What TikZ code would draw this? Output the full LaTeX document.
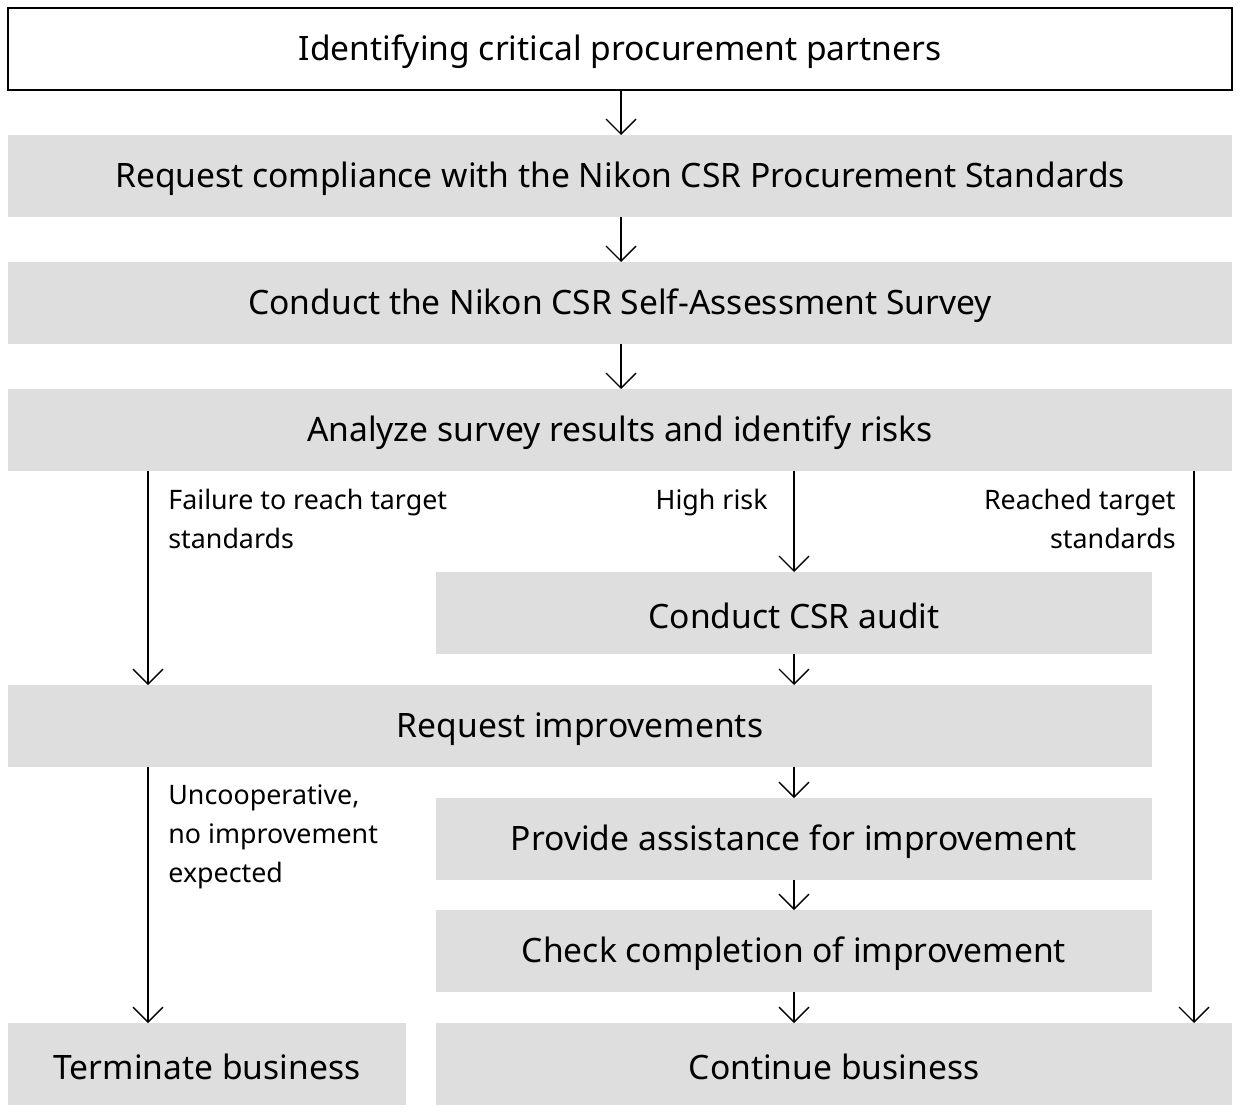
\documentclass[tikz,border=0pt]{standalone}
\usepackage{fontspec}
\setmainfont{Noto Sans}
\usetikzlibrary{arrows.meta}
\definecolor{boxgray}{HTML}{DEDEDE}
\begin{document}
\begin{tikzpicture}[x=0.5pt,y=-0.5pt,
  box/.style={fill=boxgray,draw=none},
  txt/.style={font=\fontsize{16.8}{20}\selectfont},
  lab/.style={font=\fontsize{13.4}{19.5}\selectfont,align=left,anchor=north west,inner sep=0},
  labr/.style={font=\fontsize{13.4}{19.5}\selectfont,align=right,anchor=north east,inner sep=0},
  arr/.style={-{Straight Barb[length=7.5pt,width=15pt]},line width=0.7pt}]
\useasboundingbox (0,0) rectangle (1240,1114);
\draw[line width=0.8pt] (8,8) rectangle (1232,90);
\node[txt] (t1) at (620,52) {Identifying critical procurement partners};
\fill[box] (8,135) rectangle (1232,217); \node[txt] (t2) at (620,179) {Request compliance with the Nikon CSR Procurement Standards};
\fill[box] (8,262) rectangle (1232,344); \node[txt] (t3) at (620,306) {Conduct the Nikon CSR Self-Assessment Survey};
\fill[box] (8,389) rectangle (1232,471); \node[txt] (t4) at (620,433) {Analyze survey results and identify risks};
\fill[box] (436,572) rectangle (1152,654); \node[txt] (au) at (794,616) {Conduct CSR audit};
\fill[box] (8,685) rectangle (1152,767); \node[txt] (ri) at (580,729) {Request improvements};
\fill[box] (436,798) rectangle (1152,880); \node[txt] (pa) at (794,842) {Provide assistance for improvement};
\fill[box] (436,910) rectangle (1152,992); \node[txt] (cc) at (794,954) {Check completion of improvement};
\fill[box] (8,1023) rectangle (406,1105); \node[txt] (tb) at (207,1067) {Terminate business};
\fill[box] (436,1023) rectangle (1232,1105); \node[txt] (cb) at (834,1067) {Continue business};
\coordinate (a1) at (621,90); \coordinate (a2) at (621,135);
\coordinate (b1) at (621,217); \coordinate (b2) at (621,262);
\coordinate (c1) at (621,344); \coordinate (c2) at (621,389);
\coordinate (l1) at (148,471); \coordinate (l2) at (148,685);
\coordinate (l3) at (148,767); \coordinate (l4) at (148,1023);
\coordinate (m1) at (794,471); \coordinate (m2) at (794,572);
\coordinate (m3) at (794,654); \coordinate (m4) at (794,685);
\coordinate (m5) at (794,767); \coordinate (m6) at (794,798);
\coordinate (m7) at (794,880); \coordinate (m8) at (794,910);
\coordinate (m9) at (794,992); \coordinate (m10) at (794,1023);
\coordinate (r1) at (1194,471); \coordinate (r2) at (1194,1023);
\foreach \p/\q in {a1/a2,b1/b2,c1/c2,l1/l2,l3/l4,m1/m2,m3/m4,m5/m6,m7/m8,m9/m10,r1/r2}
  \draw[arr] (\p) -- (\q);
\node[lab] (f) at (168,489) {Failure to reach target\\standards};
\node[labr] (h) at (768,489) {High risk};
\node[labr] (rt) at (1176,489) {Reached target\\standards};
\node[lab] (u) at (168,784) {Uncooperative,\\no improvement\\expected};
\end{tikzpicture}
\end{document}
